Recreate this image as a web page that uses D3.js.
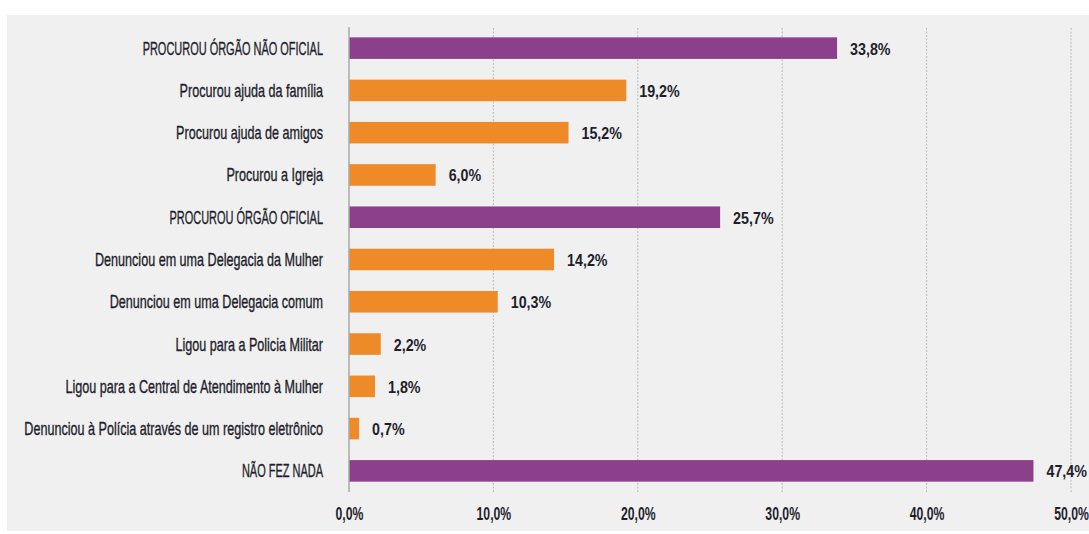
<!DOCTYPE html>
<html>
<head>
<meta charset="utf-8">
<script src="https://cdn.jsdelivr.net/npm/d3@7"></script>
<style>
  body { margin: 0; background: #fff; }
  text { font-family: "Liberation Sans Narrow", "Liberation Sans", sans-serif; fill: #1e1e2c; }
</style>
</head>
<body>
<div id="chart"></div>
<script>
// rows, top to bottom
const categories = [
  "PROCUROU ÓRGÃO NÃO OFICIAL",
  "Procurou ajuda da família",
  "Procurou ajuda de amigos",
  "Procurou a Igreja",
  "PROCUROU ÓRGÃO OFICIAL",
  "Denunciou em uma Delegacia da Mulher",
  "Denunciou em uma Delegacia comum",
  "Ligou para a Policia Militar",
  "Ligou para a Central de Atendimento à Mulher",
  "Denunciou à Polícia através de um registro eletrônico",
  "NÃO FEZ NADA"
];
const values = [33.8, 19.2, 15.2, 6.0, 25.7, 14.2, 10.3, 2.2, 1.8, 0.7, 47.4];
// "group" = summary rows (purple, caps), "item" = detail rows (orange)
const rowKinds = ["group", "item", "item", "item", "group", "item", "item", "item", "item", "item", "group"];
const tickValues = [0, 10, 20, 30, 40, 50];

const svgWidth = 1089;
const svgHeight = 534;
const margin = { top: 27, right: 18, bottom: 42, left: 349 };
const width = svgWidth - margin.left - margin.right;
const height = svgHeight - margin.top - margin.bottom;

const color = { group: "#8c3f8b", item: "#ee8a27" };
// no condensed face installed, so squeeze the text horizontally
const squeeze = { group: 0.61, item: 0.70, value: 0.84, tick: 0.7 };

const ptBR = d3.formatLocale({ decimal: ",", thousands: ".", grouping: [3], currency: ["R$", ""] });
const pct = v => ptBR.format(".1f")(v) + "%";

const rows = categories.map((c, i) => ({ category: c, value: values[i], kind: rowKinds[i] }));

const svg = d3.select("#chart").append("svg")
  .attr("width", svgWidth)
  .attr("height", svgHeight);

// grey panel behind the chart
svg.append("rect")
  .attr("x", 7).attr("y", 15)
  .attr("width", svgWidth - 7).attr("height", 516)
  .attr("fill", "#f0f0f0");

const chart = svg.append("g")
  .attr("transform", `translate(${margin.left},${margin.top})`);

const xScale = d3.scaleLinear().domain([0, 50]).range([0, width]);
const yScale = d3.scaleBand()
  .domain(categories)
  .range([0, height])
  .paddingInner(0.49)
  .paddingOuter(0.245);

// dashed gridlines
chart.selectAll(".grid")
  .data(tickValues.filter(t => t > 0))
  .enter().append("line")
  .attr("class", "grid")
  .attr("x1", d => xScale(d)).attr("x2", d => xScale(d))
  .attr("y1", 1).attr("y2", height)
  .attr("stroke", "#b9b9b9")
  .attr("stroke-width", 1)
  .attr("stroke-dasharray", "2,1.5");

// bars
chart.selectAll(".bar")
  .data(rows)
  .enter().append("rect")
  .attr("class", "bar")
  .attr("x", xScale(0))
  .attr("y", d => yScale(d.category))
  .attr("width", d => xScale(d.value) - xScale(0))
  .attr("height", yScale.bandwidth())
  .attr("fill", d => color[d.kind]);

// zero axis line
chart.append("line")
  .attr("x1", xScale(0)).attr("x2", xScale(0))
  .attr("y1", 0).attr("y2", height)
  .attr("stroke", "#a8a8a8")
  .attr("stroke-width", 1.5);

// x axis tick labels
const xAxis = chart.append("g")
  .attr("transform", `translate(0,${height})`)
  .call(d3.axisBottom(xScale).tickValues(tickValues).tickFormat(pct).tickSize(0).tickPadding(0));
xAxis.select(".domain").remove();
xAxis.attr("font-family", null);
xAxis.selectAll("text")
  .attr("y", 28)
  .attr("dy", null)
  .attr("font-size", 17.5)
  .attr("font-weight", "bold")
  .attr("fill", "#1e1e2c")
  .attr("transform", `scale(${squeeze.tick},1)`);

// category labels
chart.selectAll(".cat")
  .data(rows)
  .enter().append("g")
  .attr("class", "cat")
  .attr("transform", d => `translate(-26,${yScale(d.category) + yScale.bandwidth() / 2 + 6.5}) scale(${squeeze[d.kind]},1)`)
  .append("text")
  .attr("text-anchor", "end")
  .attr("font-size", 18)
  .attr("stroke", "#1e1e2c")
  .attr("stroke-width", 0.35)
  .text(d => d.category);

// value labels
chart.selectAll(".val")
  .data(rows)
  .enter().append("g")
  .attr("class", "val")
  .attr("transform", d => `translate(${xScale(d.value) + 13},${yScale(d.category) + yScale.bandwidth() / 2 + 6.5}) scale(${squeeze.value},1)`)
  .append("text")
  .attr("font-size", 17)
  .attr("font-weight", "bold")
  .text(d => pct(d.value));
</script>
</body>
</html>
